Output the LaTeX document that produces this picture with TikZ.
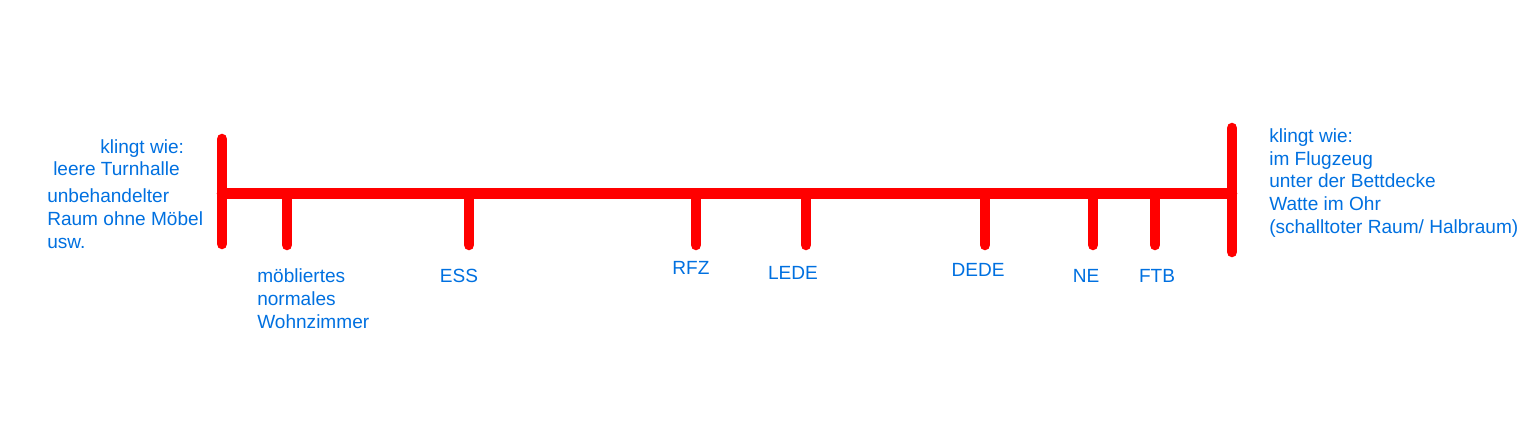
\documentclass[tikz,border=0pt]{standalone}
\usepackage{fontspec}
\setmainfont{Liberation Sans}
\definecolor{paintblue}{RGB}{0,112,224}
\tikzset{
  bar/.style={red,line width=7.9pt,line cap=round},
  lbl/.style={text=paintblue,font=\fontsize{14.3}{17}\selectfont,inner sep=0pt,align=left,anchor=base west}
}
\begin{document}
\begin{tikzpicture}[x=.75pt,y=-.75pt]
\useasboundingbox (0,0) rectangle (1528,428);
% scale bar
\coordinate (lt) at (222,139);
\coordinate (lb) at (222,244);
\coordinate (rt) at (1232,128);
\coordinate (rb) at (1232,252);
\coordinate (l) at (222,193.5);
\coordinate (r) at (1232,193.5);
\draw[bar] (lt)--(lb);
\draw[bar] (rt)--(rb);
\draw[bar] (l)--(r);
\foreach \x/\n in {287/mob,469/ess,696/rfz,806/lede,985/dede,1093/ne,1155/ftb}{
  \coordinate (\n) at (\x,193.5);
  \coordinate (\n-end) at (\x,245);
  \draw[bar] (\n)--(\n-end);
}
% labels (base = last line)
\node[lbl] (mob-lbl) at (257,328) {möbliertes\\normales\\Wohnzimmer};
\foreach \x/\y/\n/\t in {459/282/ess/ESS,691/274/rfz/RFZ,793/279/lede/LEDE,978/276/dede/DEDE,1086/282/ne/NE,1157/282/ftb/FTB}{
  \node[lbl,anchor=base] (\n-lbl) at (\x,\y) {\t};
}
\node[lbl] (kw-left) at (100,153) {klingt wie:};
\node[lbl] (halle) at (53,175) {leere Turnhalle};
\node[lbl] (raum) at (47,248) {unbehandelter\\Raum ohne Möbel\\usw.};
\node[lbl] (kw-right) at (1269,233) {klingt wie:\\im Flugzeug\\unter der Bettdecke\\Watte im Ohr\\(schalltoter Raum/ Halbraum)};
\end{tikzpicture}
\end{document}
